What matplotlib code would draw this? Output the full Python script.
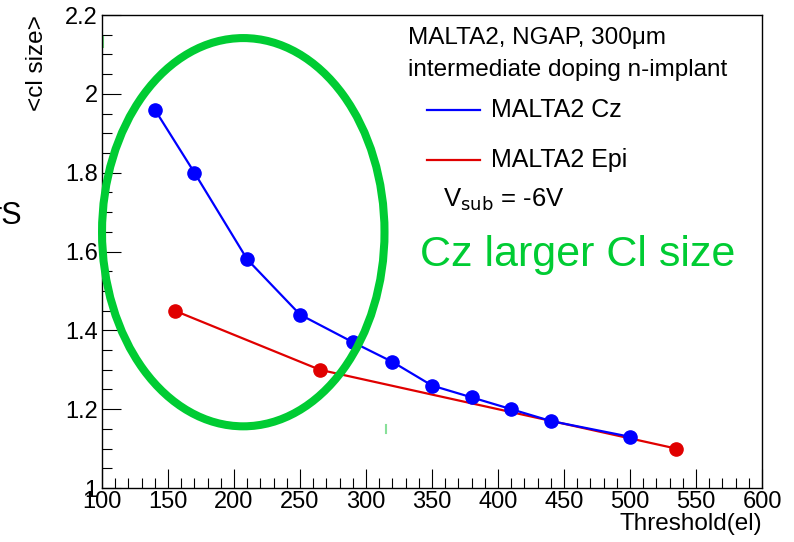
import matplotlib
matplotlib.use("Agg")
import matplotlib.pyplot as plt
from matplotlib.patches import Ellipse
from matplotlib.ticker import MultipleLocator

plt.rcParams['font.family'] = ['Liberation Sans', 'DejaVu Sans']

# threshold (el) vs mean cluster size
cz_thr = [140, 170, 210, 250, 290, 320, 350, 380, 410, 440, 500]
cz_size = [1.96, 1.80, 1.58, 1.44, 1.37, 1.32, 1.26, 1.23, 1.20, 1.17, 1.13]
epi_thr = [155, 265, 535]
epi_size = [1.45, 1.30, 1.10]

x_ticks = [100, 150, 200, 250, 300, 350, 400, 450, 500, 550, 600]
y_ticks = [1.0, 1.2, 1.4, 1.6, 1.8, 2.0, 2.2]
y_labels = ["1", "1.2", "1.4", "1.6", "1.8", "2", "2.2"]

blue = "#0000ff"
red = "#e00000"
green = "#00cc33"

fig = plt.figure(figsize=(7.94, 5.42), dpi=100)
ax = fig.add_axes([0.1285, 0.0996, 0.8312, 0.8727])

ax.plot(cz_thr, cz_size, color=blue, lw=1.6, marker="o", ms=9.5, zorder=3)
ax.plot(epi_thr, epi_size, color=red, lw=1.6, marker="o", ms=9.5, zorder=2)

ax.set_xlim(100, 600)
ax.set_ylim(1.0, 2.2)
ax.set_xticks(x_ticks)
ax.set_xticklabels([str(v) for v in x_ticks])
ax.set_yticks(y_ticks)
ax.set_yticklabels(y_labels)
ax.xaxis.set_minor_locator(MultipleLocator(10))
ax.yaxis.set_minor_locator(MultipleLocator(0.05))
ax.tick_params(which="both", direction="in", labelsize=17, width=0.8)
ax.tick_params(which="major", length=14)
ax.tick_params(which="minor", length=7)
ax.tick_params(axis="x", pad=2)
ax.tick_params(axis="y", pad=3)
for s in ax.spines.values():
    s.set_linewidth(1.0)

ax.set_xlabel("Threshold(el)", fontsize=17.5, loc="right", labelpad=0)
ax.set_ylabel("<cl size>", fontsize=17.5, loc="top", labelpad=12)

# green ellipse highlight
ell = Ellipse((207, 1.649), 214, 0.985, fill=False, edgecolor=green,
              lw=5.8, clip_on=False, zorder=4)
ax.add_patch(ell)
ax.text(0.959, 0.493, "Cz larger Cl size", transform=ax.transAxes, fontsize=31,
        color=green, ha="right", va="center")

# legend / labels in ROOT style
ax.text(0.463, 0.951, "MALTA2, NGAP, 300\u03bcm", transform=ax.transAxes,
        fontsize=17.5, va="center")
ax.text(0.463, 0.884, "intermediate doping n-implant", transform=ax.transAxes,
        fontsize=17.5, va="center")
ax.plot([0.492, 0.573], [0.799, 0.799], transform=ax.transAxes, color=blue, lw=1.6)
ax.text(0.589, 0.799, "MALTA2 Cz", transform=ax.transAxes, fontsize=18, va="center")
ax.plot([0.492, 0.573], [0.693, 0.693], transform=ax.transAxes, color=red, lw=1.6)
ax.text(0.589, 0.693, "MALTA2 Epi", transform=ax.transAxes, fontsize=18, va="center")
ax.text(0.517, 0.609, "V$_{\\rm sub}$ = -6V", transform=ax.transAxes,
        fontsize=18.5, va="center")

# small stray green marks
ax.plot([0.0015, 0.0015], [0.932, 0.953], transform=ax.transAxes,
        color="#66dd77", lw=1.5, clip_on=False)
ax.plot([0.430, 0.430], [0.116, 0.133], transform=ax.transAxes,
        color="#88e099", lw=1.5)

# leftover text from slide
fig.text(0.028, 0.601, "rS", fontsize=22, ha="right", va="center")

fig.savefig("out.png", dpi=100)
